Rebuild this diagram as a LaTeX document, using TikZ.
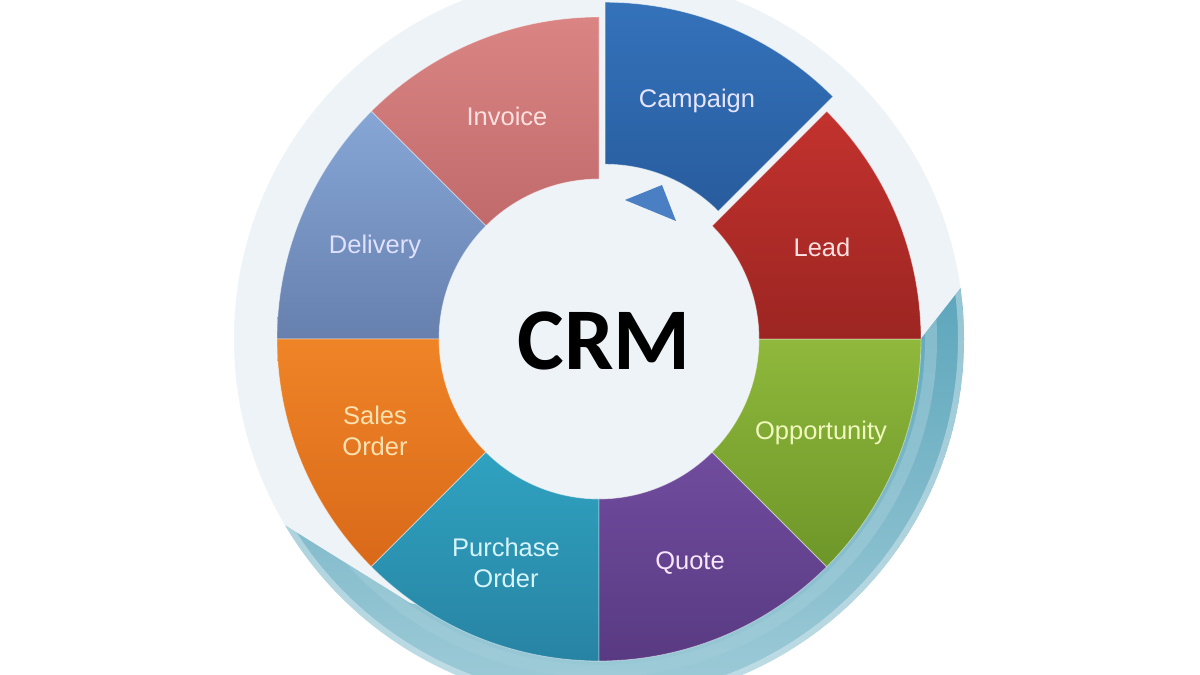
\documentclass[tikz,border=0pt]{standalone}
\usepackage{fontspec}
\setmainfont{Liberation Sans}
\newfontfamily\crmfont{Carlito}
\usetikzlibrary{calc}
\definecolor{paledisc}{HTML}{EDF3F6}
\definecolor{rimteal}{HTML}{5DA6BC}
\definecolor{rimlight}{HTML}{A2CDD9}
\definecolor{invtop}{HTML}{DA8584}\definecolor{invbot}{HTML}{C16A6C}
\definecolor{camtop}{HTML}{3472BA}\definecolor{cambot}{HTML}{285C9E}
\definecolor{leadtop}{HTML}{C3322E}\definecolor{leadbot}{HTML}{9C2522}
\definecolor{opptop}{HTML}{8FB83C}\definecolor{oppbot}{HTML}{6D9629}
\definecolor{quotop}{HTML}{714C9E}\definecolor{quobot}{HTML}{583A82}
\definecolor{purtop}{HTML}{2FA2C0}\definecolor{purbot}{HTML}{2883A3}
\definecolor{saltop}{HTML}{EF8427}\definecolor{salbot}{HTML}{D96919}
\definecolor{deltop}{HTML}{86A6D6}\definecolor{delbot}{HTML}{6780AE}
\definecolor{arrowblue}{HTML}{4B7FC4}
\newcommand\crmseg[5]{%
  \shadedraw[top color=#3,bottom color=#4,draw=white,draw opacity=0.45,line width=0.8pt]
   ($(C)+#5+(#1:160)$) arc[start angle=#1,end angle=#2,radius=160]
   -- ($(C)+#5+(#2:322)$) arc[start angle=#2,end angle=#1,radius=322] -- cycle;}
\newcommand\rimpath{($(C)+(210.7:365)$) -- (410,72) .. controls (660,10) and (860,200) .. (920,335)
  -- ($(C)+(8:365)$) arc[start angle=8,end angle=-149.3,radius=365] -- cycle}
\begin{document}
\begin{tikzpicture}[x=1pt,y=1pt,
  lbl/.style={font=\fontsize{25.5}{31}\selectfont,align=center,inner sep=0pt}]
\useasboundingbox (0,0) rectangle (1200,675);
\fill[white] (0,0) rectangle (1200,675);
\coordinate (C) at (599,336);
% background disc
\fill[paledisc] (C) circle[radius=365];
% teal rim
\begin{scope}
\clip (C) circle[radius=365];
\clip \rimpath;
\shade[top color=rimteal,bottom color=rimlight] \rimpath;
\draw[rimlight,line width=12pt,opacity=0.55] (C) circle[radius=332];
\draw[white,line width=6pt,opacity=0.35] (C) circle[radius=362];
\end{scope}
% segments
\crmseg{90}{135}{invtop}{invbot}{(0,0)}
\crmseg{135}{180}{deltop}{delbot}{(0,0)}
\crmseg{180}{225}{saltop}{salbot}{(0,0)}
\crmseg{225}{270}{purtop}{purbot}{(0,0)}
\crmseg{270}{315}{quotop}{quobot}{(0,0)}
\crmseg{315}{360}{opptop}{oppbot}{(0,0)}
\crmseg{0}{45}{leadtop}{leadbot}{(0,0)}
\crmseg{45}{90}{camtop}{cambot}{(67.5:16)}
% arrow triangle
\fill[arrowblue] (625,475) -- (662,490) -- (676,454) -- cycle;
% labels
\node[lbl,text=white!88!red] (invoice) at (507,559) {Invoice};
\node[lbl,text=white!90!blue] (campaign) at (697,574) {Campaign};
\node[lbl,text=white!88!red] (lead) at (822,428) {Lead};
\node[lbl,text=white!88!blue] (delivery) at (375,428) {Delivery};
\node[lbl,text={rgb,255:red,252;green,226;blue,176}] (sales) at (375,244) {Sales\\Order};
\node[lbl,text={rgb,255:red,240;green,248;blue,190}] (opportunity) at (821,242) {Opportunity};
\node[lbl,text={rgb,255:red,214;green,244;blue,251}] (purchase) at (506,112) {Purchase\\Order};
\node[lbl,text={rgb,255:red,246;green,230;blue,250}] (quote) at (690,112) {Quote};
\node[font=\crmfont\bfseries\fontsize{88}{90}\selectfont,inner sep=0pt] (crm) at (604,334) {CRM};
\end{tikzpicture}
\end{document}
